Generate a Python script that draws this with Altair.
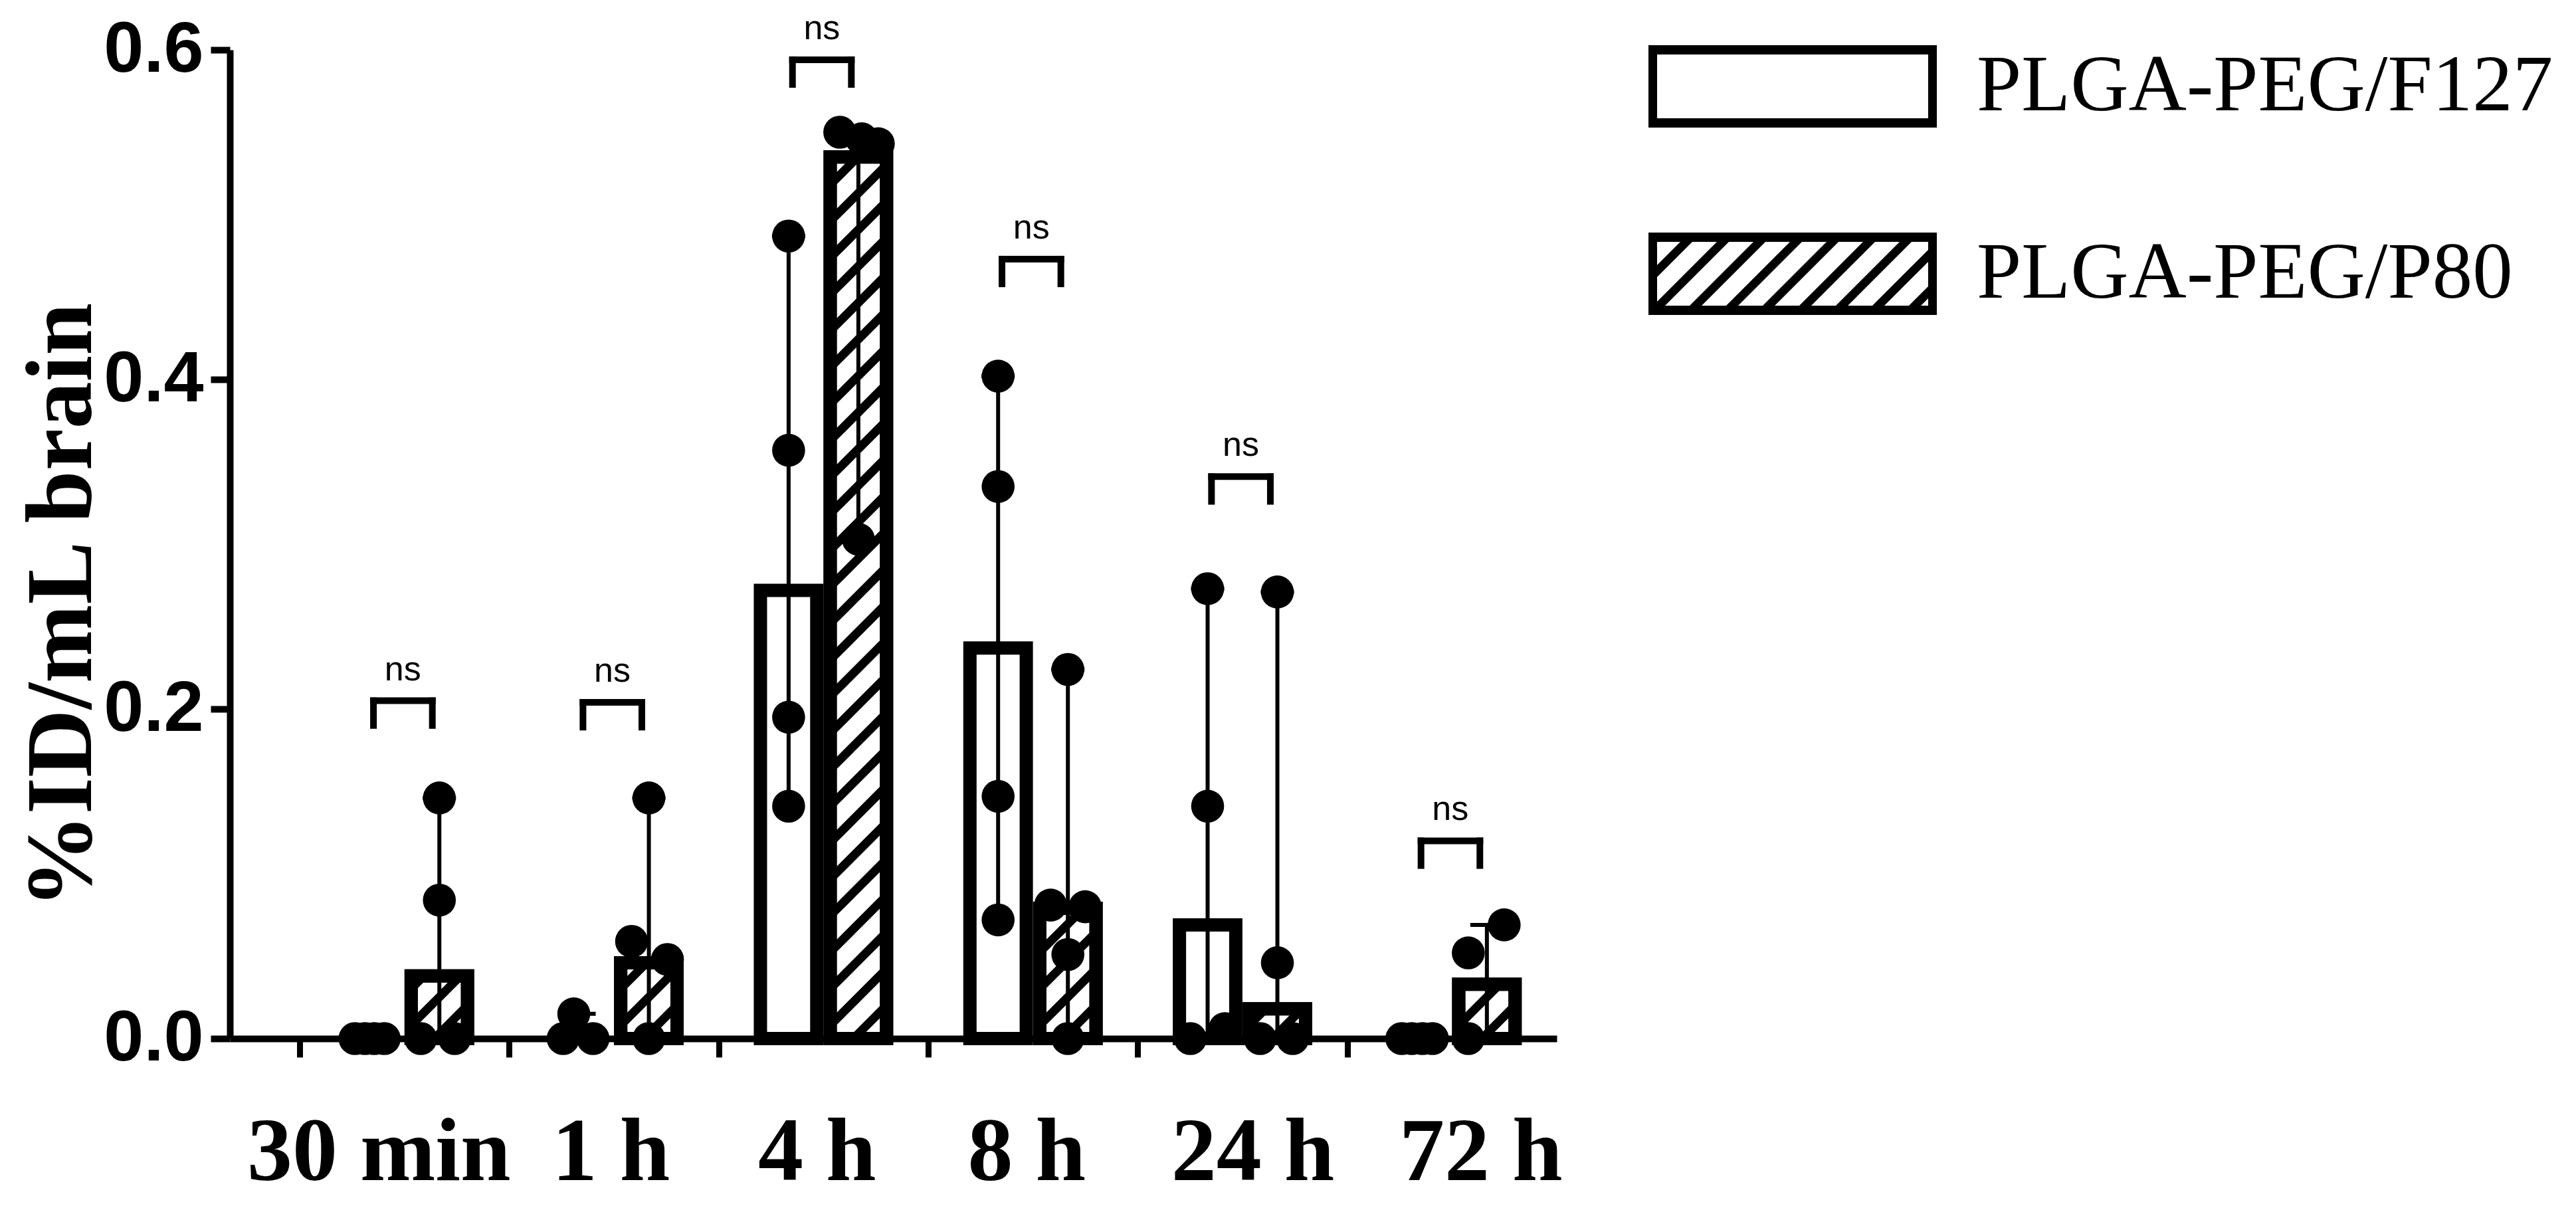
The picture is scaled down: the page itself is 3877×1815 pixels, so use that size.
import altair as alt
import pandas as pd

# ---------------- data ----------------
groups = ["30 min", "1 h", "4 h", "8 h", "24 h", "72 h"]
series = ["PLGA-PEG/F127", "PLGA-PEG/P80"]

# bar heights (median)
bar_f127 = [0.0, 0.0, 0.272, 0.237, 0.069, 0.0]
bar_p80 = [0.038, 0.046, 0.535, 0.079, 0.018, 0.033]

# individual animals
pts_f127 = [
    [0.0, 0.0, 0.0, 0.0],
    [0.0, 0.015, 0.0],
    [0.487, 0.357, 0.195, 0.141],
    [0.402, 0.335, 0.147, 0.072],
    [0.273, 0.141, 0.006, 0.0],
    [0.0, 0.0, 0.0, 0.0],
]
pts_p80 = [
    [0.146, 0.084, 0.0, 0.0],
    [0.146, 0.059, 0.048, 0.0],
    [0.550, 0.546, 0.543, 0.303],
    [0.224, 0.081, 0.080, 0.051, 0.0],
    [0.271, 0.046, 0.0, 0.0],
    [0.069, 0.052, 0.0],
]
# horizontal scatter of overlapping dots (pixels from bar centre)
jit_f127 = [
    [-22, -7, 7, 22],
    [-24, -8, 21],
    [0, 0, 0, 0],
    [0, 0, 0, 0],
    [0, 0, 26, -26],
    [-23, -8, 8, 23],
]
jit_p80 = [
    [0, 0, -28, 23],
    [0, -26, 28, 0],
    [-28, 5, 30, 0],
    [0, -26, 26, 0, 0],
    [0, 0, -26, 23],
    [26, -28, -28],
]
# significance brackets
bracket_top = [0.205, 0.204, 0.594, 0.473, 0.341, 0.120]
sig_labels = ["ns", "ns", "ns", "ns", "ns", "ns"]

# ---------------- layout constants ----------------
X_MIN, X_MAX = -0.8333, 5.5
Y_MAX = 0.6
W, H = 1997, 1488
KX = W / (X_MAX - X_MIN)
KY = H / Y_MAX
B_IN, B_OUT = 0.032, 0.301
B_MID = (B_IN + B_OUT) / 2
HATCH_STEP = 55.0
CAP = 25.0 / KX
LABEL_SHIFT = [-39, -5, -10, -10, 15, 43]  # px, horizontal nudge of category labels

xs = alt.Scale(domain=[X_MIN, X_MAX], nice=False, zero=False)
ys = alt.Scale(domain=[0, Y_MAX], nice=False, zero=False)

# ---------------- tables ----------------
bar_rows, dot_rows, rng_rows, hatch_rows = [], [], [], []
for s_i, (bars, pts, jit) in enumerate([(bar_f127, pts_f127, jit_f127),
                                        (bar_p80, pts_p80, jit_p80)]):
    for g, v in enumerate(bars):
        if s_i == 0:
            x0, x1 = g - B_OUT, g - B_IN
            cx = g - B_MID
        else:
            x0, x1 = g + B_IN, g + B_OUT
            cx = g + B_MID
        if v > 0:
            bar_rows.append({"series": series[s_i], "x0": x0, "x1": x1, "v": v})
            if s_i == 1:
                wpx = (x1 - x0) * KX
                hpx = v * KY
                k = -int(wpx // HATCH_STEP) - 1
                while True:
                    b = k * HATCH_STEP + 20
                    if b >= hpx:
                        break
                    a0 = max(0.0, -b)
                    a1 = min(wpx, hpx - b)
                    if a1 > a0 + 0.5:
                        hatch_rows.append({
                            "hx": x0 + a0 / KX, "hy": (a0 + b) / KY,
                            "hx2": x0 + a1 / KX, "hy2": (a1 + b) / KY})
                    k += 1
        vals = pts[g]
        for val, dx in zip(vals, jit[g]):
            dot_rows.append({"series": series[s_i], "dx": cx + dx / KX, "val": val})
        lo, hi = min(vals), max(vals)
        if hi > lo:
            rng_rows.append({"cx": cx, "lo": lo, "hi": hi,
                             "cl": cx - CAP, "cr": cx + CAP})

bars_df = pd.DataFrame(bar_rows)
p80_df = bars_df[bars_df["series"] == series[1]]
dots_df = pd.DataFrame(dot_rows)
rng_df = pd.DataFrame(rng_rows)
hatch_df = pd.DataFrame(hatch_rows)

br_rows = []
for g, top in enumerate(bracket_top):
    br_rows.append({"bl": g - 0.148, "br": g + 0.133, "top": top,
                    "leg": top - 0.015, "tx": g - 0.008, "lab": sig_labels[g]})
br_df = pd.DataFrame(br_rows)

# ---------------- legend symbols (custom paths) ----------------
U = 124.0  # px per path unit (sqrt(size)/2)


def clip_half(poly, a, b, c):
    out = []
    n = len(poly)
    for i in range(n):
        P, Q = poly[i], poly[(i + 1) % n]
        fp = a * P[0] + b * P[1] + c
        fq = a * Q[0] + b * Q[1] + c
        if fp >= 0:
            out.append(P)
        if (fp >= 0) != (fq >= 0):
            t = fp / (fp - fq)
            out.append((P[0] + t * (Q[0] - P[0]), P[1] + t * (Q[1] - P[1])))
    return out


def f(v):
    return f"{v / U:.4f}"


ox0, ox1, oy0, oy1 = -U, 2.5 * U, -0.5 * U, 0.5 * U
ix0, ix1, iy0, iy1 = ox0 + 13, ox1 - 13, oy0 + 14, oy1 - 14
frame = (f"M{f(ox0)},{f(oy0)}L{f(ox1)},{f(oy0)}L{f(ox1)},{f(oy1)}L{f(ox0)},{f(oy1)}Z"
         f"M{f(ix0)},{f(iy0)}L{f(ix0)},{f(iy1)}L{f(ix1)},{f(iy1)}L{f(ix1)},{f(iy0)}Z")
stripes = ""
inner = [(ix0, iy0), (ix1, iy0), (ix1, iy1), (ix0, iy1)]
a = ix0 + iy0 - 20
while a < ix1 + iy1:
    poly = clip_half(inner, 1, 1, -a)
    poly = clip_half(poly, -1, -1, a + 18) if poly else poly
    if len(poly) >= 3:
        stripes += "M" + "L".join(f"{f(p[0])},{f(p[1])}" for p in poly) + "Z"
    a += HATCH_STEP
path_f127 = frame
path_p80 = frame + stripes

leg_df = pd.DataFrame({"series": series, "lx": [0, 0], "ly": [0, 0]})

# ---------------- axes ----------------
tick_vals = [i * 0.5 for i in range(-1, 11)]
label_expr = ("datum.value % 1 === 0 ? " + str(groups) + "[datum.value] : ''")
label_offset = {
    "condition": [{"test": f"datum.value === {i}", "value": s} for i, s in enumerate(LABEL_SHIFT)],
    "value": 0,
}
x_axis = alt.Axis(values=tick_vals, labelExpr=label_expr,
                  tickOpacity={"condition": {"test": "datum.value % 1 !== 0", "value": 1}, "value": 0},
                  labelOffset=label_offset,
                  tickSize=28, tickWidth=9, tickColor="black",
                  domainColor="black", domainWidth=10,
                  labelFont="Liberation Serif", labelFontWeight="bold", labelFontSize=136,
                  labelColor="black", labelPadding=184, labelBaseline="alphabetic",
                  labelLimit=2000, labelOverlap=False, labelFlush=False, grid=False, title="")
y_axis = alt.Axis(values=[0, 0.2, 0.4, 0.6], format=".1f",
                  tickSize=29, tickWidth=10, tickColor="black",
                  domainColor="black", domainWidth=10,
                  labelFont="Liberation Sans", labelFontWeight="bold", labelFontSize=108,
                  labelColor="black", labelPadding=11, labelLimit=2000, grid=False,
                  title="%ID/mL brain", titleFont="Liberation Serif", titleFontWeight="bold",
                  titleFontSize=142, titleColor="black", titleAngle=270, titleLimit=3000,
                  titleX=-210, titleY=836, titleAlign="center", titleBaseline="alphabetic")

bars_layer = alt.Chart(bars_df).mark_rect(fill="white", stroke="black", strokeWidth=20,
                                          strokeJoin="miter").encode(
    x=alt.X("x0:Q", scale=xs, axis=x_axis),
    x2="x1:Q",
    y=alt.Y("v:Q", scale=ys, axis=y_axis),
    y2=alt.datum(0),
)

hatch_layer = alt.Chart(hatch_df).mark_rule(color="black", strokeWidth=13, strokeCap="butt").encode(
    x=alt.X("hx:Q", scale=xs), x2="hx2:Q",
    y=alt.Y("hy:Q", scale=ys), y2="hy2:Q",
)

outline_layer = alt.Chart(p80_df).mark_rect(fillOpacity=0, stroke="black", strokeWidth=20,
                                            strokeJoin="miter").encode(
    x=alt.X("x0:Q", scale=xs), x2="x1:Q",
    y=alt.Y("v:Q", scale=ys), y2=alt.datum(0),
)

range_layer = alt.Chart(rng_df).mark_rule(color="black", strokeWidth=6).encode(
    x=alt.X("cx:Q", scale=xs),
    y=alt.Y("lo:Q", scale=ys), y2="hi:Q",
)
cap_hi = alt.Chart(rng_df).mark_rule(color="black", strokeWidth=6).encode(
    x=alt.X("cl:Q", scale=xs), x2="cr:Q",
    y=alt.Y("hi:Q", scale=ys),
)

dots_layer = alt.Chart(dots_df).mark_circle(size=2460, color="black", opacity=1).encode(
    x=alt.X("dx:Q", scale=xs),
    y=alt.Y("val:Q", scale=ys),
)

br_h = alt.Chart(br_df).mark_rule(color="black", strokeWidth=10, strokeCap="square").encode(
    x=alt.X("bl:Q", scale=xs), x2="br:Q",
    y=alt.Y("top:Q", scale=ys),
)
br_l = alt.Chart(br_df).mark_rule(color="black", strokeWidth=10, strokeCap="square").encode(
    x=alt.X("bl:Q", scale=xs),
    y=alt.Y("top:Q", scale=ys), y2="leg:Q",
)
br_r = alt.Chart(br_df).mark_rule(color="black", strokeWidth=10, strokeCap="square").encode(
    x=alt.X("br:Q", scale=xs),
    y=alt.Y("top:Q", scale=ys), y2="leg:Q",
)
ns_layer = alt.Chart(br_df).mark_text(font="Liberation Sans", fontSize=52, baseline="alphabetic",
                                      align="center", dy=-31, color="black").encode(
    x=alt.X("tx:Q", scale=xs),
    y=alt.Y("top:Q", scale=ys),
    text="lab:N",
)

legend_layer = alt.Chart(leg_df).mark_point(filled=True, opacity=0, color="black").encode(
    x=alt.X("lx:Q", scale=xs),
    y=alt.Y("ly:Q", scale=ys),
    shape=alt.Shape("series:N",
                    scale=alt.Scale(domain=series, range=[path_f127, path_p80]),
                    title=None,
                    legend=alt.Legend(orient="none", legendX=2135, legendY=-69,
                                      direction="vertical", padding=0,
                                      symbolSize=61504, symbolFillColor="black",
                                      symbolStrokeWidth=0, symbolOpacity=1,
                                      labelFont="Liberation Serif", labelFontSize=121,
                                      labelColor="black", labelLimit=2000,
                                      labelOffset=246, rowPadding=96)),
)

chart = alt.layer(
    bars_layer, hatch_layer, outline_layer, range_layer, cap_hi, dots_layer,
    br_h, br_l, br_r, ns_layer, legend_layer,
).properties(
    width=W, height=H,
    background="white",
    autosize=alt.AutoSizeParams(type="none"),
    padding={"left": 338, "top": 67, "right": 1526, "bottom": 244},
).configure_view(stroke="transparent", strokeWidth=0)

chart.save("out.html", embed_options={"renderer": "svg", "actions": False})
